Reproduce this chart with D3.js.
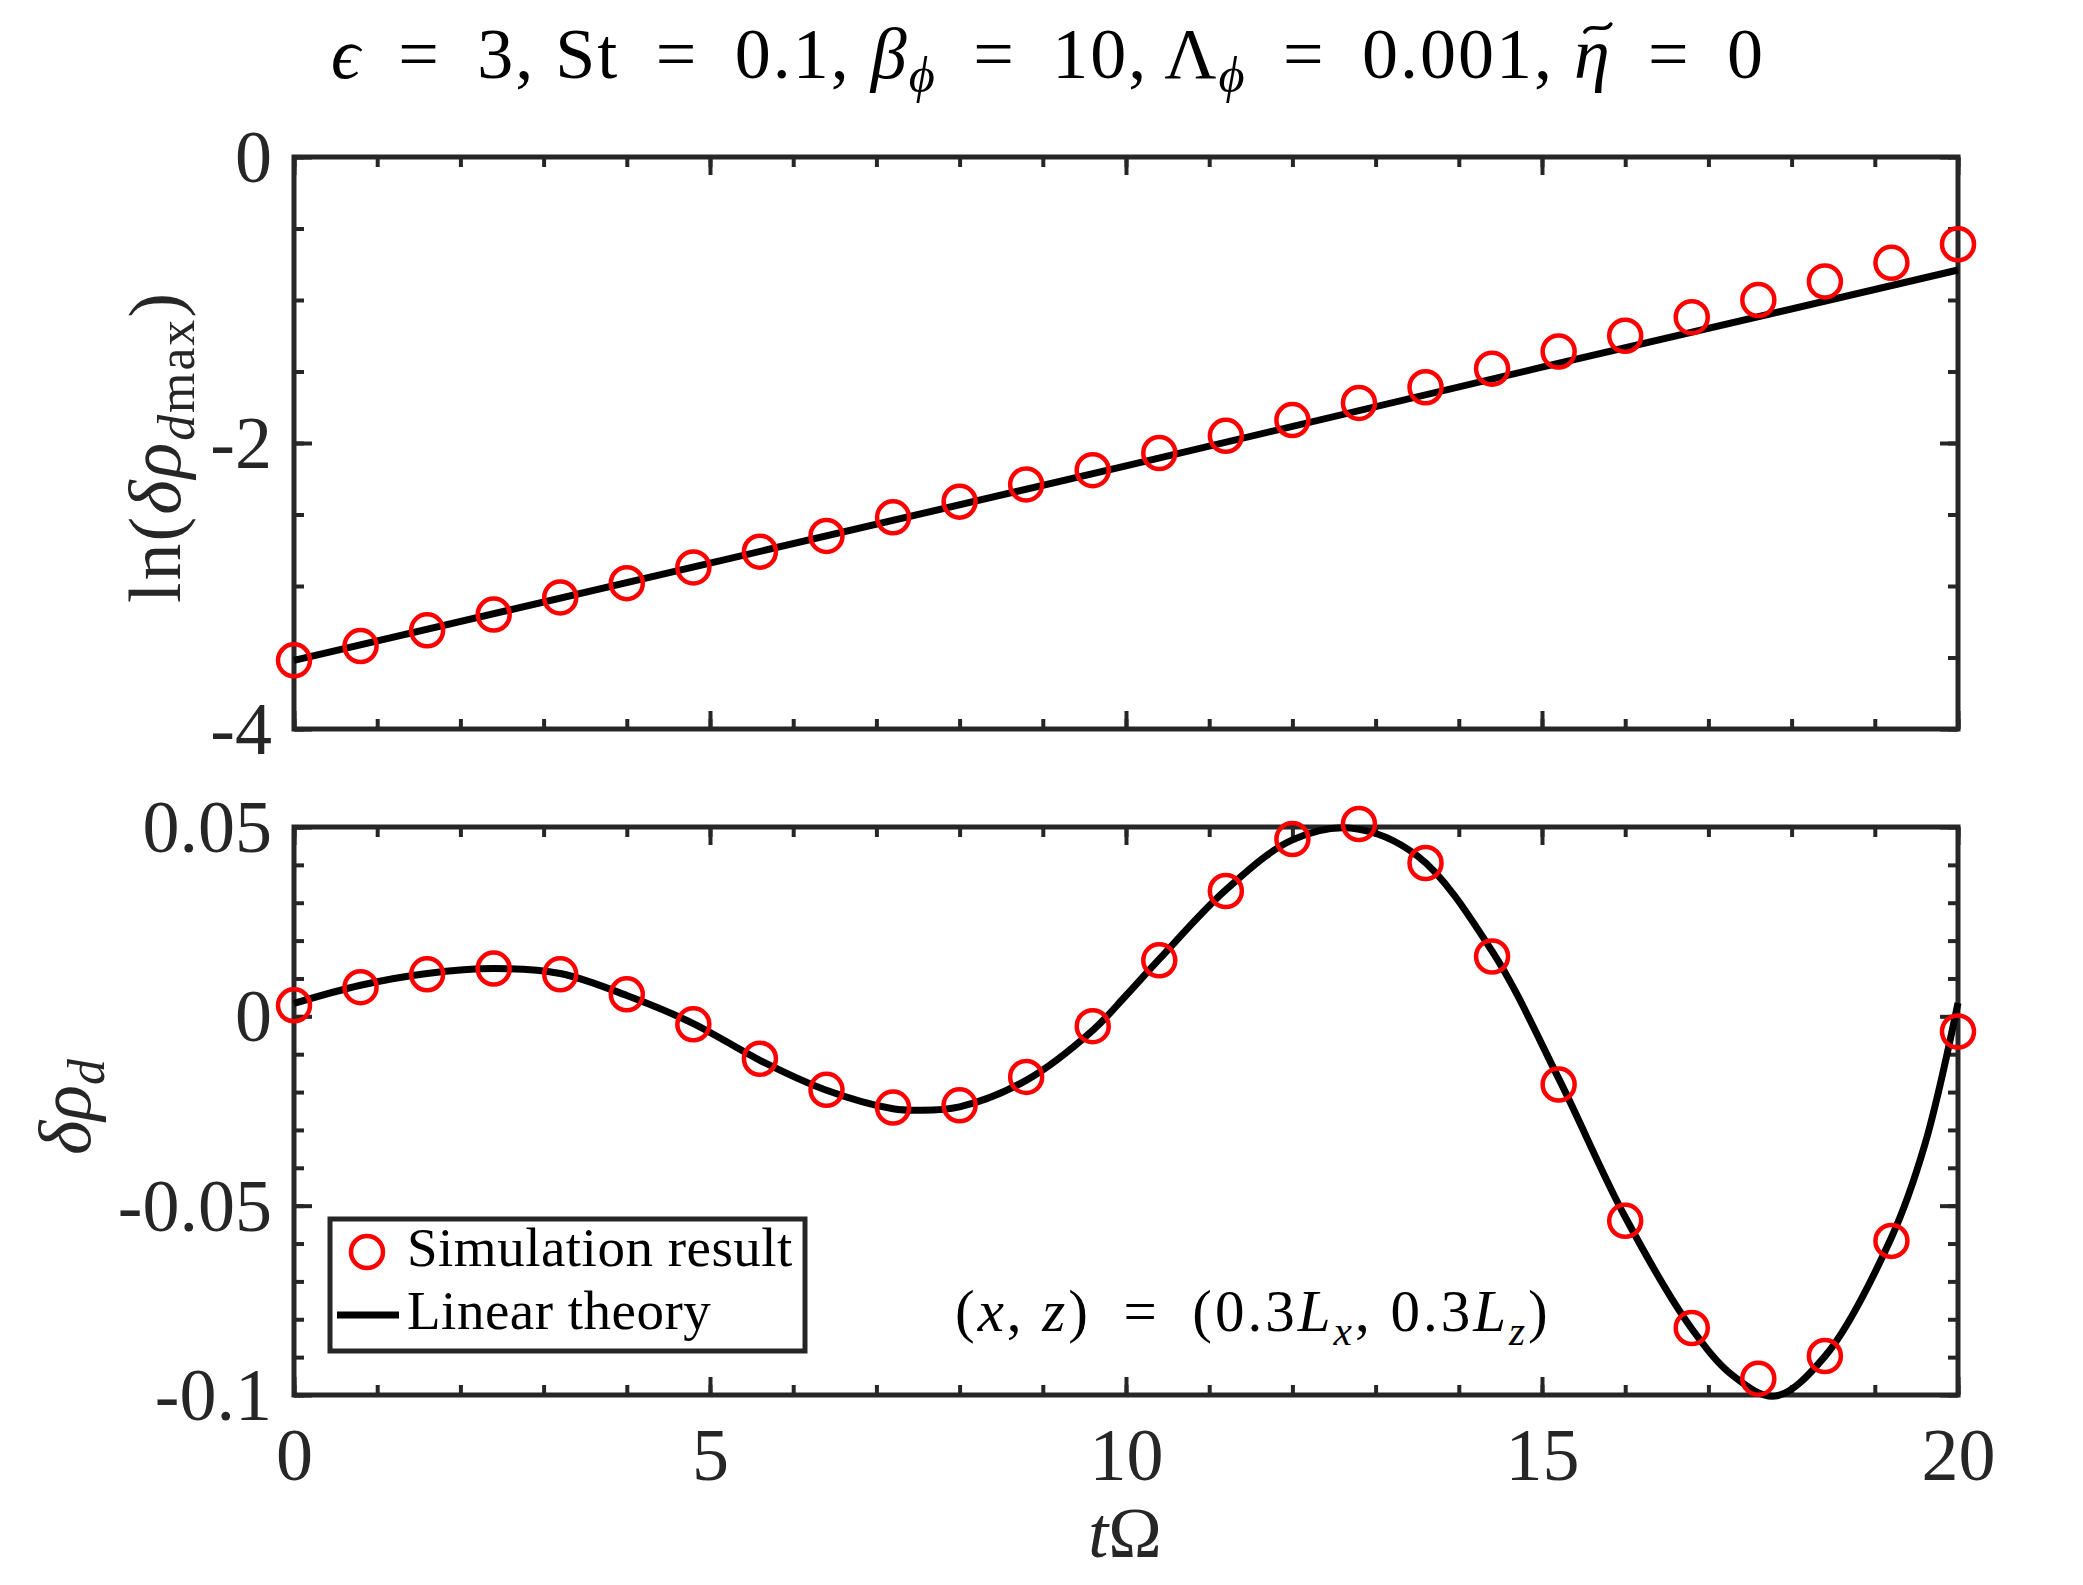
<!DOCTYPE html>
<html>
<head>
<meta charset="utf-8">
<script src="https://cdn.jsdelivr.net/npm/d3@7"></script>
<style>
  body { margin: 0; background: #ffffff; }
</style>
</head>
<body>
<div id="chart"></div>
<script>
// Simulation samples (both panels share the same times)
var timeSim = [0, 0.8, 1.6, 2.4, 3.2, 4.0, 4.8, 5.6, 6.4, 7.2, 8.0, 8.8, 9.6,
  10.4, 11.2, 12.0, 12.8, 13.6, 14.4, 15.2, 16.0, 16.8, 17.6, 18.4, 19.2, 20.0];
var lnRhoSim = [-3.52, -3.42, -3.31, -3.20, -3.08, -2.98, -2.87, -2.76, -2.65,
  -2.52, -2.41, -2.29, -2.19, -2.07, -1.95, -1.84, -1.72, -1.61, -1.48, -1.36,
  -1.25, -1.12, -1.00, -0.87, -0.74, -0.61];
var rhoSim = [0.0029, 0.0077, 0.0111, 0.0126, 0.0111, 0.0058, -0.0021, -0.0112,
  -0.0194, -0.0241, -0.0235, -0.0160, -0.0026, 0.0148, 0.0331, 0.0468, 0.0508,
  0.0405, 0.0158, -0.0180, -0.0540, -0.0823, -0.0957, -0.0897, -0.0593, -0.0040];

// Linear theory curves
var timeTheoryTop = [0, 5, 10, 15, 20];
var lnRhoTheory = [-3.52, -2.84, -2.16, -1.47, -0.79];
var timeTheory = [0, 0.8, 1.6, 2.4, 3.2, 4.0, 4.8, 5.6, 6.4, 7.2, 7.5, 8.0, 8.8,
  9.6, 10.0, 10.4, 11.2, 12.0, 12.7, 13.5, 14.4, 15.2, 16.0, 16.8, 17.3, 17.8,
  18.4, 19.2, 19.6, 20];
var rhoTheory = [0.0034, 0.0082, 0.0113, 0.0126, 0.0113, 0.0055, -0.0019,
  -0.0116, -0.0195, -0.0244, -0.0248, -0.0239, -0.0169, -0.0037, 0.0055, 0.0151,
  0.0334, 0.0466, 0.0497, 0.0424, 0.0172, -0.0164, -0.0530, -0.0825, -0.0950,
  -0.1003, -0.0898, -0.0584, -0.0340, 0.0035];

// Ticks
var xTicks = [0, 5, 10, 15, 20];
var xTickLabels = ["0", "5", "10", "15", "20"];
var yTicksTop = [0, -2, -4];
var yTickLabelsTop = ["0", "-2", "-4"];
var yTicksBottom = [0.05, 0, -0.05, -0.1];
var yTickLabelsBottom = ["0.05", "0", "-0.05", "-0.1"];

var legendLabels = ["Simulation result", "Linear theory"];

// Layout
var widthChart = 2083;
var heightChart = 1585;
var plotLeft = 294;
var plotRight = 1958;
var topPanel = { top: 157, bottom: 729 };
var bottomPanel = { top: 827, bottom: 1395 };
var axisColor = "#262626";
var serif = "'Liberation Serif', 'Times New Roman', serif";
var EQ = " \u2009=\u2009 "; // wider "=" like LaTeX math spacing

var svg = d3
  .select("#chart")
  .append("svg")
  .attr("width", widthChart)
  .attr("height", heightChart)
  .style("font-family", serif);

var x = d3.scaleLinear().domain([0, 20]).range([plotLeft, plotRight]);
var yTop = d3.scaleLinear().domain([-4, 0]).range([topPanel.bottom, topPanel.top]);
var yBottom = d3.scaleLinear().domain([-0.1, 0.05]).range([bottomPanel.bottom, bottomPanel.top]);

// write a text made of plain / italic / subscript parts
function mathText(sel, parts) {
  var shift = 0;
  parts.forEach(function (p) {
    var target = p.sub ? 14 : 0;
    var ts = sel.append("tspan").text(p.t);
    if (p.i) ts.style("font-style", "italic");
    if (p.sub) ts.style("font-size", "70%");
    if (target !== shift) {
      ts.attr("dy", target - shift);
      shift = target;
    }
  });
  return sel;
}

function drawAxes(yScale, yTicks, yLabels, yMinorStep, showXLabels, panel) {
  var g = svg.append("g");
  var xMinor = d3.range(0, 20.001, 1);
  var yDom = yScale.domain();
  var yMinor = d3.range(Math.round((yDom[1] - yDom[0]) / yMinorStep) + 1).map(function (i) {
    return yDom[0] + i * yMinorStep;
  });

  var bottomMajor = d3.axisBottom(x).tickValues(xTicks).tickSizeInner(-18).tickSizeOuter(0)
    .tickFormat(function (d, i) { return showXLabels ? xTickLabels[i] : ""; });
  var bottomMinor = d3.axisBottom(x).tickValues(xMinor).tickSizeInner(-10).tickSizeOuter(0).tickFormat("");
  var topMajor = d3.axisTop(x).tickValues(xTicks).tickSizeInner(-18).tickSizeOuter(0).tickFormat("");
  var topMinor = d3.axisTop(x).tickValues(xMinor).tickSizeInner(-10).tickSizeOuter(0).tickFormat("");
  var leftMajor = d3.axisLeft(yScale).tickValues(yTicks).tickSizeInner(-18).tickSizeOuter(0)
    .tickPadding(22).tickFormat(function (d, i) { return yLabels[i]; });
  var leftMinor = d3.axisLeft(yScale).tickValues(yMinor).tickSizeInner(-10).tickSizeOuter(0).tickFormat("");
  var rightMajor = d3.axisRight(yScale).tickValues(yTicks).tickSizeInner(-18).tickSizeOuter(0).tickFormat("");
  var rightMinor = d3.axisRight(yScale).tickValues(yMinor).tickSizeInner(-10).tickSizeOuter(0).tickFormat("");

  var parts = [
    [bottomMajor, 0, panel.bottom, "xb"], [bottomMinor, 0, panel.bottom, ""],
    [topMajor, 0, panel.top, ""], [topMinor, 0, panel.top, ""],
    [leftMajor, plotLeft, 0, "yl"], [leftMinor, plotLeft, 0, ""],
    [rightMajor, plotRight, 0, ""], [rightMinor, plotRight, 0, ""]
  ];
  parts.forEach(function (p) {
    var a = g.append("g")
      .attr("class", p[3])
      .attr("transform", "translate(" + p[1] + "," + p[2] + ")")
      .call(p[0]);
    a.select(".domain").remove();
    a.selectAll(".tick line").attr("stroke", axisColor).attr("stroke-width", 4);
    a.selectAll("text")
      .attr("fill", axisColor)
      .style("font-family", serif)
      .style("font-size", "74px");
  });
  g.selectAll("text").filter(function () { return this.textContent === ""; }).remove();

  // tick label placement
  g.selectAll(".yl text").attr("dy", "0.33em");
  g.selectAll(".xb text").attr("y", 85).attr("dy", 0);

  g.append("rect")
    .attr("x", plotLeft)
    .attr("y", panel.top)
    .attr("width", plotRight - plotLeft)
    .attr("height", panel.bottom - panel.top)
    .attr("fill", "none")
    .attr("stroke", axisColor)
    .attr("stroke-width", 5);
  return g;
}

drawAxes(yTop, yTicksTop, yTickLabelsTop, 0.5, false, topPanel);
drawAxes(yBottom, yTicksBottom, yTickLabelsBottom, 0.01, true, bottomPanel);

// Theory lines
var lineTop = d3.line()
  .x(function (d, i) { return x(timeTheoryTop[i]); })
  .y(function (d) { return yTop(d); });

svg.append("path")
  .datum(lnRhoTheory)
  .attr("d", lineTop)
  .attr("fill", "none")
  .attr("stroke", "#000000")
  .attr("stroke-width", 7);

var lineBottom = d3.line()
  .curve(d3.curveCatmullRom.alpha(0.5))
  .x(function (d, i) { return x(timeTheory[i]); })
  .y(function (d) { return yBottom(d); });

svg.append("path")
  .datum(rhoTheory)
  .attr("d", lineBottom)
  .attr("fill", "none")
  .attr("stroke", "#000000")
  .attr("stroke-width", 7)
  .attr("stroke-linejoin", "round");

// Simulation markers
svg.selectAll("circle.simTop")
  .data(lnRhoSim)
  .enter()
  .append("circle")
  .attr("class", "simTop")
  .attr("cx", function (d, i) { return x(timeSim[i]); })
  .attr("cy", function (d) { return yTop(d); })
  .attr("r", 16)
  .attr("fill", "none")
  .attr("stroke", "#ff0000")
  .attr("stroke-width", 4.5);

svg.selectAll("circle.simBottom")
  .data(rhoSim)
  .enter()
  .append("circle")
  .attr("class", "simBottom")
  .attr("cx", function (d, i) { return x(timeSim[i]); })
  .attr("cy", function (d) { return yBottom(d); })
  .attr("r", 16)
  .attr("fill", "none")
  .attr("stroke", "#ff0000")
  .attr("stroke-width", 4.5);

// Title
var title = mathText(
  svg.append("text")
    .attr("x", 1048)
    .attr("y", 78)
    .attr("text-anchor", "middle")
    .style("font-size", "72px")
    .style("letter-spacing", "2px")
    .attr("fill", "#000000"),
  [
    { t: "ϵ", i: true }, { t: EQ + "3, St" + EQ + "0.1, " },
    { t: "β", i: true }, { t: "ϕ", i: true, sub: true },
    { t: EQ + "10, Λ" }, { t: "ϕ", i: true, sub: true },
    { t: EQ + "0.001, " }, { t: "η", i: true }, { t: EQ + "0" }
  ]
);

// tilde over eta, drawn as a small wave above the glyph
var etaBox = title.node().getExtentOfChar(title.node().textContent.indexOf("η"));
var tx = etaBox.x + etaBox.width / 2 + 5;
var ty = 78 - 50;
var tilde = d3.path();
tilde.moveTo(tx - 13, ty + 4);
tilde.bezierCurveTo(tx - 7, ty - 6, tx + 7, ty + 6, tx + 13, ty - 4);
svg.append("path")
  .attr("d", tilde.toString())
  .attr("fill", "none")
  .attr("stroke", "#000000")
  .attr("stroke-width", 3.5)
  .attr("stroke-linecap", "round");

// Axis labels
mathText(
  svg.append("text")
    .attr("transform", "translate(180,447) rotate(-90)")
    .attr("text-anchor", "middle")
    .style("font-size", "74px")
    .style("letter-spacing", "2px")
    .attr("fill", axisColor),
  [
    { t: "ln(" }, { t: "δρ", i: true },
    { t: "d", i: true, sub: true }, { t: "max", sub: true }, { t: ")" }
  ]
);

mathText(
  svg.append("text")
    .attr("transform", "translate(90,1107) rotate(-90)")
    .attr("text-anchor", "middle")
    .style("font-size", "74px")
    .attr("fill", axisColor),
  [{ t: "δρ", i: true }, { t: "d", i: true, sub: true }]
);

mathText(
  svg.append("text")
    .attr("x", 1125)
    .attr("y", 1557)
    .attr("text-anchor", "middle")
    .style("font-size", "72px")
    .attr("fill", axisColor),
  [{ t: "t", i: true }, { t: "Ω" }]
);

// Annotation
mathText(
  svg.append("text")
    .attr("x", 955)
    .attr("y", 1331)
    .style("font-size", "59px")
    .style("letter-spacing", "3px")
    .attr("fill", "#000000"),
  [
    { t: "(" }, { t: "x", i: true }, { t: ", " }, { t: "z", i: true },
    { t: ")" + EQ + "(0.3" }, { t: "L", i: true }, { t: "x", i: true, sub: true },
    { t: ", 0.3" }, { t: "L", i: true }, { t: "z", i: true, sub: true }, { t: ")" }
  ]
);

// Legend
var legend = svg.append("g");
legend.append("rect")
  .attr("x", 330)
  .attr("y", 1219)
  .attr("width", 475)
  .attr("height", 132)
  .attr("fill", "#ffffff")
  .attr("stroke", axisColor)
  .attr("stroke-width", 5);

legend.append("circle")
  .attr("cx", 367)
  .attr("cy", 1252)
  .attr("r", 16)
  .attr("fill", "none")
  .attr("stroke", "#ff0000")
  .attr("stroke-width", 4.5);

legend.append("line")
  .attr("x1", 337)
  .attr("x2", 399)
  .attr("y1", 1315)
  .attr("y2", 1315)
  .attr("stroke", "#000000")
  .attr("stroke-width", 7);

legend.selectAll("text.lab")
  .data(legendLabels)
  .enter()
  .append("text")
  .attr("class", "lab")
  .attr("x", 407)
  .attr("y", function (d, i) { return 1266 + i * 63; })
  .style("font-size", "55px")
  .style("letter-spacing", "0.5px")
  .attr("fill", "#000000")
  .text(function (d) { return d; });
</script>
</body>
</html>
